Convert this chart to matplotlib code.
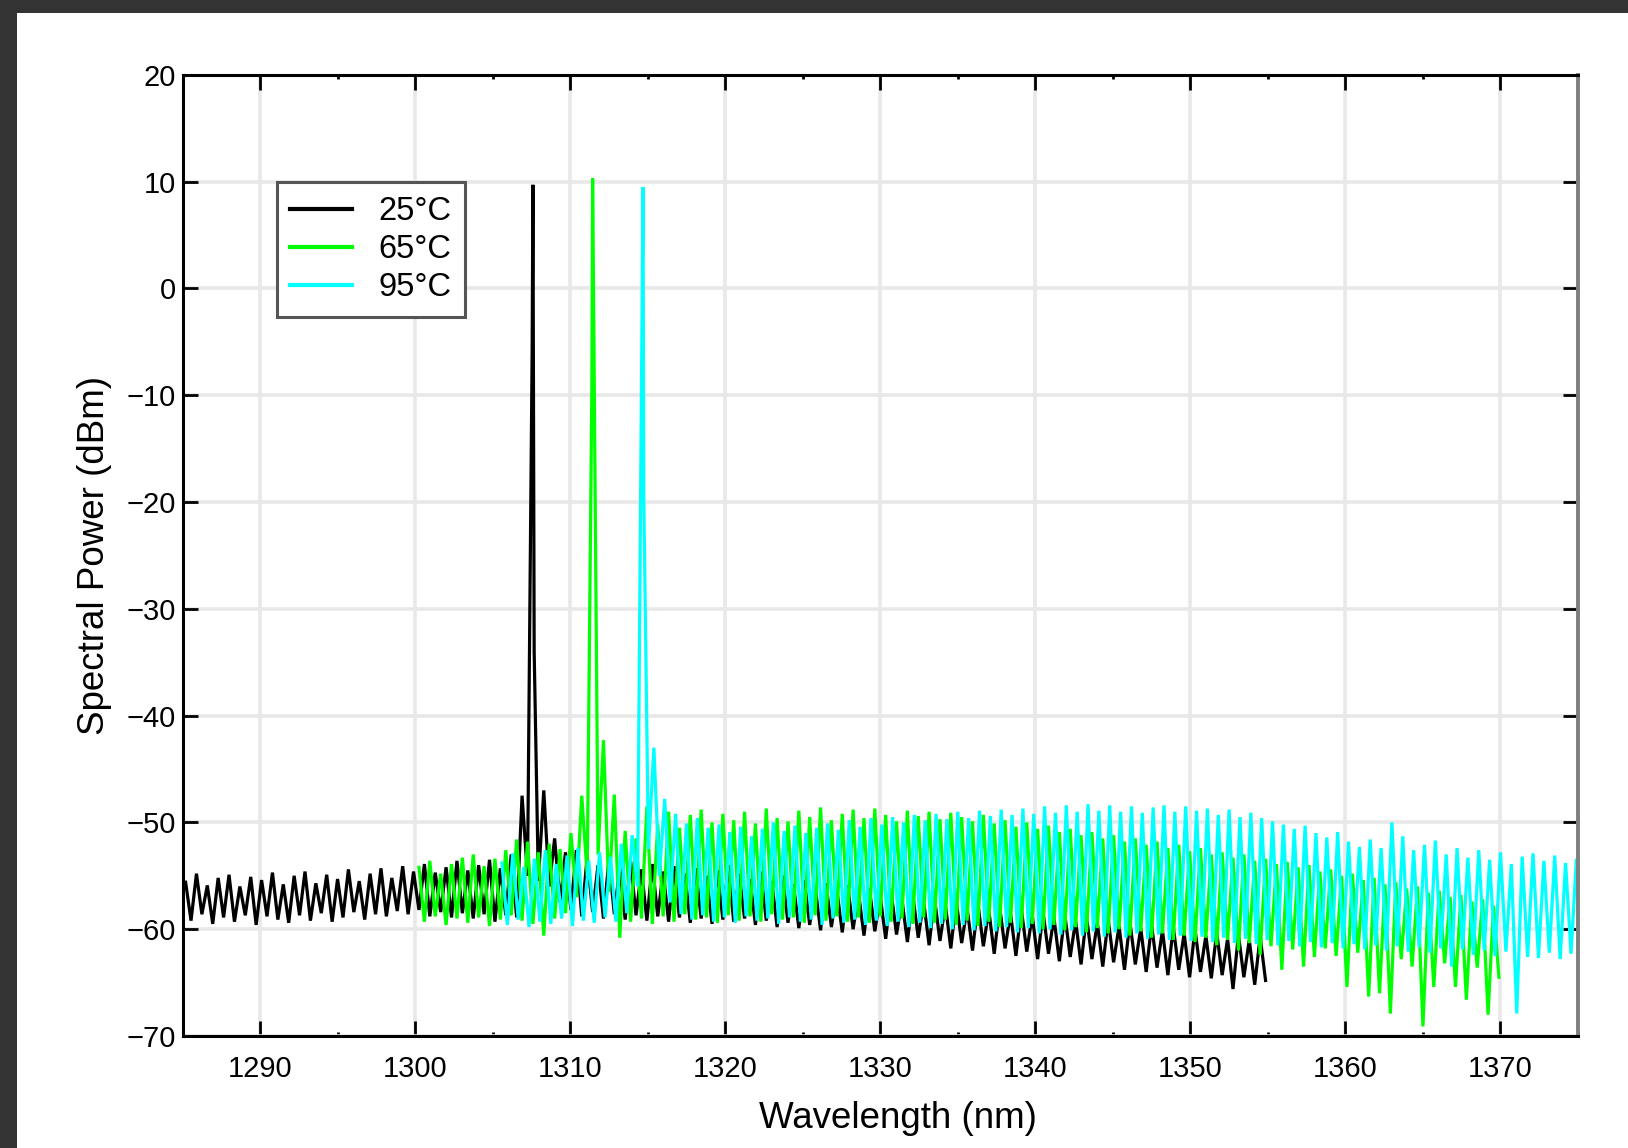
import numpy as np
import matplotlib
matplotlib.use("Agg")
import matplotlib.pyplot as plt
from matplotlib.patches import Rectangle
from matplotlib.ticker import MultipleLocator

plt.rcParams['font.family'] = ['Liberation Sans', 'DejaVu Sans']

# ---- spectra: longitudinal-mode peaks and the troughs between them (dBm) ----
MODE_SPACING_NM = 0.70

# 25 °C
black_first_mode_nm = 1285.2
black_peaks = [
    -55.6, -54.8, -55.9, -55.2, -54.9, -56.0, -55.1, -55.4, -54.7, -55.8,
    -55.0, -54.6, -55.7, -54.9, -55.3, -54.4, -55.5, -54.8, -54.3, -55.2,
    -54.1, -54.6, -53.9, -54.7, -54.2, -53.6, -54.5, -54.0, -53.5, -54.3,
    -53.0, -47.5, 9.7, -47.0, -51.5, -52.8, -52.6, -53.2, -54.0, -53.5,
    -54.2, -53.6, -54.4, -53.9, -54.6, -54.1, -54.8, -54.3, -55.0, -54.5,
    -54.0, -54.8, -55.3, -54.6, -55.5, -55.0, -55.8, -55.4, -56.0, -55.7,
    -56.3, -55.9, -56.6, -56.2, -56.9, -56.5, -57.2, -56.8, -57.4, -57.1,
    -57.7, -57.3, -58.0, -57.6, -58.2, -57.9, -58.5, -58.1, -58.7, -58.4,
    -58.9, -58.6, -59.2, -58.8, -59.4, -59.1, -59.7, -59.3, -59.9, -59.6,
    -60.1, -59.8, -60.4, -60.0, -60.6, -60.3, -60.9, -60.5, -61.0, -60.7,
]
black_troughs = [
    -59.2, -58.6, -59.5, -58.9, -59.3, -58.7, -59.6, -58.8, -59.1, -59.4,
    -58.7, -59.2, -58.5, -59.3, -58.9, -58.4, -59.1, -58.6, -58.8, -58.3,
    -58.6, -58.2, -58.8, -58.4, -58.9, -58.5, -59.0, -58.6, -59.3, -58.7,
    -58.9, -55.0, -55.5, -56.0, -57.5, -58.2, -58.8, -58.4, -59.0, -58.6,
    -59.1, -58.7, -59.2, -58.8, -59.3, -58.9, -59.4, -59.0, -59.5, -59.1,
    -59.3, -59.0, -59.6, -59.2, -59.8, -59.4, -59.9, -59.6, -60.1, -59.8,
    -60.3, -60.0, -60.6, -60.2, -60.9, -60.5, -61.2, -60.8, -61.5, -61.1,
    -61.8, -61.3, -62.0, -61.6, -62.3, -61.8, -62.5, -62.1, -62.8, -62.3,
    -63.0, -62.6, -63.3, -62.8, -63.5, -63.1, -63.8, -63.3, -64.0, -63.6,
    -64.3, -63.8, -64.5, -64.0, -64.6, -64.3, -65.6, -64.5, -65.2, -64.8,
]
black_line_nm = [1307.55, 1307.68]
black_line_dbm = [-5.7, -34.0]

# 65 °C
green_first_mode_nm = 1300.25
green_peaks = [
    -54.2, -53.6, -54.8, -53.9, -53.3, -53.0, -54.1, -53.4, -52.6, -51.6,
    -51.8, -52.8, -52.0, -52.5, -51.0, -47.5, 10.3, -42.3, -47.4, -50.8,
    -51.5, -48.5, -50.2, -49.0, -50.5, -49.3, -48.8, -50.0, -49.2, -49.8,
    -49.0, -50.1, -48.7, -49.6, -49.9, -48.9, -49.5, -48.6, -49.8, -49.2,
    -48.8, -49.6, -48.7, -49.3, -49.9, -48.9, -49.4, -49.0, -49.7, -49.1,
    -49.5, -49.9, -49.3, -50.1, -49.8, -50.4, -50.0, -50.6, -50.3, -50.9,
    -50.6, -51.2, -50.9, -51.5, -51.2, -51.8, -51.5, -52.1, -51.8, -52.4,
    -52.1, -52.7, -52.4, -53.0, -52.8, -53.3, -53.0, -53.6, -53.4, -53.9,
    -53.7, -54.2, -54.0, -54.6, -54.4, -55.0, -54.8, -55.4, -55.2, -55.8,
    -55.6, -56.2, -56.0, -56.6, -56.4, -57.0, -56.8, -57.4, -57.2, -57.8,
]
green_troughs = [
    -59.3, -58.8, -59.6, -59.0, -59.4, -58.9, -59.7, -59.1, -58.7, -59.2,
    -59.5, -60.6, -59.0, -58.5, -57.0, -55.0, -53.0, -56.5, -60.8, -59.3,
    -59.0, -59.5, -58.8, -59.3, -58.6, -59.1, -58.9, -59.4, -58.7, -59.2,
    -58.8, -59.3, -58.6, -59.1, -58.9, -59.4, -58.7, -59.2, -58.8, -59.3,
    -58.9, -59.4, -58.8, -59.3, -59.0, -59.5, -58.9, -59.4, -59.1, -59.6,
    -59.2, -59.7, -59.3, -59.8, -59.4, -59.9, -59.5, -60.0, -59.6, -60.1,
    -59.8, -60.3, -59.9, -60.4, -60.0, -60.6, -60.2, -60.8, -60.4, -61.0,
    -60.6, -61.2, -60.8, -61.5, -61.0, -62.0, -61.3, -62.4, -61.6, -63.8,
    -61.9, -63.5, -62.6, -61.8, -62.5, -65.4, -62.2, -66.3, -66.0, -67.9,
    -62.8, -63.5, -69.1, -65.4, -63.2, -65.4, -66.6, -63.6, -68.0, -64.5,
]
green_line_nm = [1311.40]
green_line_dbm = [-9.4]

# 95 °C
cyan_first_mode_nm = 1305.6
cyan_peaks = [
    -53.8, -52.9, -54.2, -53.4, -52.6, -53.9, -53.1, -52.4, -53.6, -52.8,
    -53.2, -52.0, -51.2, 9.5, -43.0, -47.8, -49.2, -50.1, -49.6, -50.5,
    -50.2, -50.9, -50.4, -51.3, -50.6, -50.0, -50.8, -50.3, -51.0, -50.5,
    -50.1, -50.7, -49.8, -50.4, -49.6, -50.2, -49.5, -50.0, -49.3, -49.8,
    -49.2, -49.7, -49.0, -49.6, -48.9, -49.4, -48.8, -49.3, -48.7, -49.2,
    -48.5, -49.1, -48.4, -49.0, -48.3, -48.9, -48.4, -49.0, -48.5, -49.1,
    -48.6, -48.4, -49.0, -48.5, -48.9, -48.7, -49.3, -48.8, -49.5, -49.1,
    -49.6, -49.9, -50.2, -50.6, -50.3, -51.0, -51.4, -50.9, -51.8, -52.3,
    -51.6, -52.4, -50.0, -51.3, -52.6, -52.1, -51.7, -53.0, -52.4, -53.3,
    -52.6, -53.5, -52.8, -53.9, -53.2, -52.9, -53.6, -53.1, -53.8, -53.4,
]
cyan_troughs = [
    -59.6, -59.1, -59.8, -59.3, -59.5, -59.0, -59.7, -59.2, -59.4, -58.9,
    -59.3, -58.5, -56.0, -52.5, -55.0, -57.5, -58.6, -59.1, -58.7, -59.3,
    -58.9, -59.4, -58.8, -59.2, -59.0, -59.5, -58.9, -59.3, -59.1, -59.6,
    -59.0, -59.4, -59.1, -59.6, -59.2, -59.7, -59.3, -59.8, -59.4, -59.9,
    -59.5, -60.0, -59.6, -60.1, -59.7, -60.2, -59.8, -60.3, -59.9, -60.4,
    -60.0, -60.5, -60.1, -60.6, -60.2, -60.7, -60.3, -60.8, -60.4, -60.9,
    -60.5, -61.0, -60.6, -61.1, -60.7, -61.2, -60.8, -61.3, -60.9, -61.4,
    -61.0, -61.5, -61.1, -61.6, -61.2, -61.7, -61.3, -61.8, -61.4, -61.9,
    -61.5, -62.0, -61.6, -62.1, -61.7, -62.2, -61.8, -63.5, -61.9, -62.4,
    -62.0, -62.5, -62.1, -67.9, -62.6, -62.7, -62.2, -62.8, -62.3, -62.5,
]
cyan_line_nm = [1314.75]
cyan_line_dbm = [-19.6]

series_labels = ['25°C', '65°C', '95°C']
series_colors = ['#000000', '#00ff00', '#00ffff']

x_ticks = [1290, 1300, 1310, 1320, 1330, 1340, 1350, 1360, 1370]
y_ticks = [-70, -60, -50, -40, -30, -20, -10, 0, 10, 20]


def trace(first_mode, peaks, troughs, extra_nm, extra_dbm):
    """Interleave mode peaks and inter-mode troughs into one spectrum trace."""
    peaks = np.asarray(peaks, float)
    troughs = np.asarray(troughs, float)
    modes = first_mode + MODE_SPACING_NM * np.arange(len(peaks))
    wl = np.empty(2 * len(peaks))
    pw = np.empty(2 * len(peaks))
    wl[0::2], wl[1::2] = modes, modes + MODE_SPACING_NM / 2
    pw[0::2], pw[1::2] = peaks, troughs
    wl = np.concatenate([wl, extra_nm])
    pw = np.concatenate([pw, extra_dbm])
    order = np.argsort(wl, kind='stable')
    return wl[order], pw[order]


W, H = 1628, 1148
fig = plt.figure(figsize=(W / 100, H / 100), dpi=100)
fig.patch.set_facecolor('white')

# dark frame strips along the top and left edges
fig.add_artist(Rectangle((0, 1 - 13 / H), 1, 13 / H, transform=fig.transFigure,
                         facecolor='#333333', edgecolor='none', zorder=10))
fig.add_artist(Rectangle((0, 0), 17 / W, 1, transform=fig.transFigure,
                         facecolor='#333333', edgecolor='none', zorder=10))

ax = fig.add_axes([182.5 / W, 1 - 1036 / H, (1578 - 182.5) / W, (1036 - 74.8) / H])

curves = [
    trace(black_first_mode_nm, black_peaks, black_troughs, black_line_nm, black_line_dbm),
    trace(green_first_mode_nm, green_peaks, green_troughs, green_line_nm, green_line_dbm),
    trace(cyan_first_mode_nm, cyan_peaks, cyan_troughs, cyan_line_nm, cyan_line_dbm),
]
for (wl, pw), lab, col in zip(curves, series_labels, series_colors):
    ax.plot(wl, pw, color=col, lw=2.3, label=lab, solid_joinstyle='miter')

ax.set_xlim(1285, 1375)
ax.set_ylim(-70, 20)
ax.set_xticks(x_ticks)
ax.set_yticks(y_ticks)
ax.xaxis.set_minor_locator(MultipleLocator(5))

ax.grid(True, which='major', color='#e8e8e8', lw=2.6)
ax.set_axisbelow(True)

ax.tick_params(which='major', direction='in', length=11, width=2,
               top=True, right=True, labelsize=21)
ax.tick_params(axis='x', which='major', pad=14)
ax.tick_params(axis='y', which='major', pad=5)
ax.tick_params(which='minor', direction='in', length=3, width=2,
               top=True, right=False, left=False)
for s in ['top', 'bottom', 'left']:
    ax.spines[s].set_linewidth(2.2)
    ax.spines[s].set_color('black')
ax.spines['right'].set_linewidth(2.8)
ax.spines['right'].set_color('#7f7f7f')

ax.set_xlabel('Wavelength (nm)', fontsize=26.5, va='baseline')
ax.xaxis.set_label_coords(0.5128, -0.0957)
ax.set_ylabel('Spectral Power (dBm)', fontsize=26.5, va='center')
ax.yaxis.set_label_coords(-0.0634, 0.5)

leg = ax.legend(loc='upper left', bbox_to_anchor=((276.7 - 182.5) / 1395.5, (1036 - 182.3) / 961.2),
                borderaxespad=0, fontsize=23.5, frameon=True, fancybox=False,
                edgecolor='#555555', framealpha=1, handlelength=1.88,
                handletextpad=0.82, borderpad=0.42, labelspacing=0.22)
leg.get_frame().set_linewidth(2.2)
for ln in leg.get_lines():
    ln.set_linewidth(3)

fig.savefig('out.png', dpi=100)
